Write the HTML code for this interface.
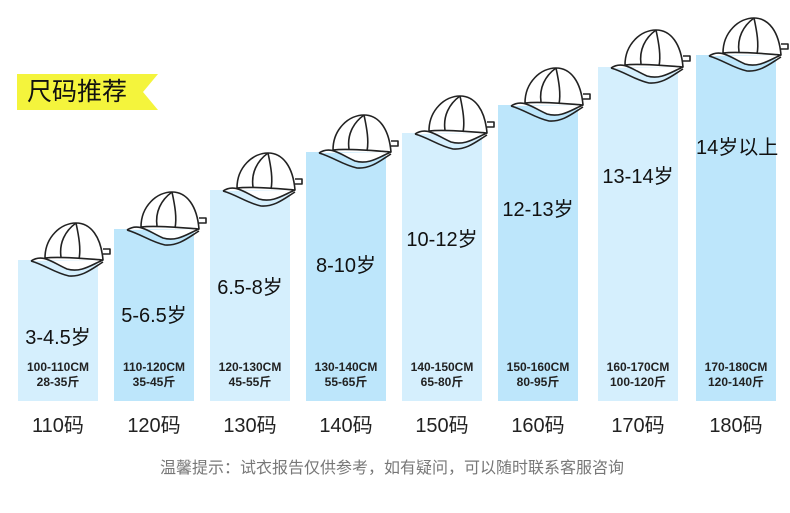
<!DOCTYPE html>
<html><head><meta charset="utf-8"><style>
body{margin:0;width:790px;height:513px;background:#fff;position:relative;overflow:hidden;font-family:"Liberation Sans","Noto Sans CJK SC",sans-serif;}
.bar{position:absolute;width:80px;bottom:112px;}
.a{position:absolute;left:0;width:80px;text-align:center;font-size:20px;color:#111;white-space:nowrap;line-height:24px;}
.c{position:absolute;width:80px;text-align:center;font-size:12px;font-weight:bold;color:#222;line-height:15px;white-space:nowrap;}
.b{position:absolute;width:80px;text-align:center;font-size:20px;color:#222;top:409px;}
svg{position:absolute;left:0;top:0;}
</style></head><body>
<svg width="790" height="513">
<polygon points="17,74 158,74 143,92 158,110 17,110" fill="#f4f43c"/>
</svg>
<div style="position:absolute;left:27px;top:77px;font-size:25px;color:#111;line-height:30px;">尺码推荐</div>

<div class="bar" style="left:18px;top:260px;background:#d5effd"></div>
<div class="bar" style="left:114px;top:229px;background:#bde6fb"></div>
<div class="bar" style="left:210px;top:190px;background:#d5effd"></div>
<div class="bar" style="left:306px;top:152px;background:#bde6fb"></div>
<div class="bar" style="left:402px;top:133px;background:#d5effd"></div>
<div class="bar" style="left:498px;top:105px;background:#bde6fb"></div>
<div class="bar" style="left:598px;top:67px;background:#d5effd"></div>
<div class="bar" style="left:696px;top:55px;background:#bde6fb"></div>

<svg width="790" height="513">
<defs><g id="h" fill="none" stroke="#222" stroke-width="1.6" stroke-linejoin="round">
<path d="M0,38 C12,30 22,40 36,46 C50,50 60,42 72,37" fill="#fff"/>
<path d="M0,38 C14,42 24,50 38,53 C52,54 62,45 72,39" />
<path d="M14,35 C14,14 30,0 45,0 C60,0 70,14 72,37 C58,36 30,33 14,35 Z" fill="#fff"/>
<path d="M45,0 C34,8 28,20 30,34"/>
<path d="M45,0 C48,14 50,26 48,36"/>
<path d="M72,26 L79,26 L79,31 L72,31"/>
</g></defs>
<use href="#h" x="31" y="223"/>
<use href="#h" x="127" y="192"/>
<use href="#h" x="223" y="153"/>
<use href="#h" x="319" y="115"/>
<use href="#h" x="415" y="96"/>
<use href="#h" x="511" y="68"/>
<use href="#h" x="611" y="30"/>
<use href="#h" x="709" y="18"/>
</svg>

<div class="a" style="left:18px;top:326px">3-4.5岁</div>
<div class="a" style="left:114px;top:304px">5-6.5岁</div>
<div class="a" style="left:210px;top:276px">6.5-8岁</div>
<div class="a" style="left:306px;top:254px">8-10岁</div>
<div class="a" style="left:402px;top:228px">10-12岁</div>
<div class="a" style="left:498px;top:198px">12-13岁</div>
<div class="a" style="left:598px;top:165px">13-14岁</div>
<div class="a" style="left:696px;top:136px">14岁以上</div>

<div class="c" style="left:18px;top:360px">100-110CM<br>28-35斤</div>
<div class="c" style="left:114px;top:360px">110-120CM<br>35-45斤</div>
<div class="c" style="left:210px;top:360px">120-130CM<br>45-55斤</div>
<div class="c" style="left:306px;top:360px">130-140CM<br>55-65斤</div>
<div class="c" style="left:402px;top:360px">140-150CM<br>65-80斤</div>
<div class="c" style="left:498px;top:360px">150-160CM<br>80-95斤</div>
<div class="c" style="left:598px;top:360px">160-170CM<br>100-120斤</div>
<div class="c" style="left:696px;top:360px">170-180CM<br>120-140斤</div>

<div class="b" style="left:18px">110码</div>
<div class="b" style="left:114px">120码</div>
<div class="b" style="left:210px">130码</div>
<div class="b" style="left:306px">140码</div>
<div class="b" style="left:402px">150码</div>
<div class="b" style="left:498px">160码</div>
<div class="b" style="left:598px">170码</div>
<div class="b" style="left:696px">180码</div>

<div style="position:absolute;left:160px;top:454px;font-size:16px;color:#777;white-space:nowrap;">温馨提示：试衣报告仅供参考，如有疑问，可以随时联系客服咨询</div>
</body></html>
